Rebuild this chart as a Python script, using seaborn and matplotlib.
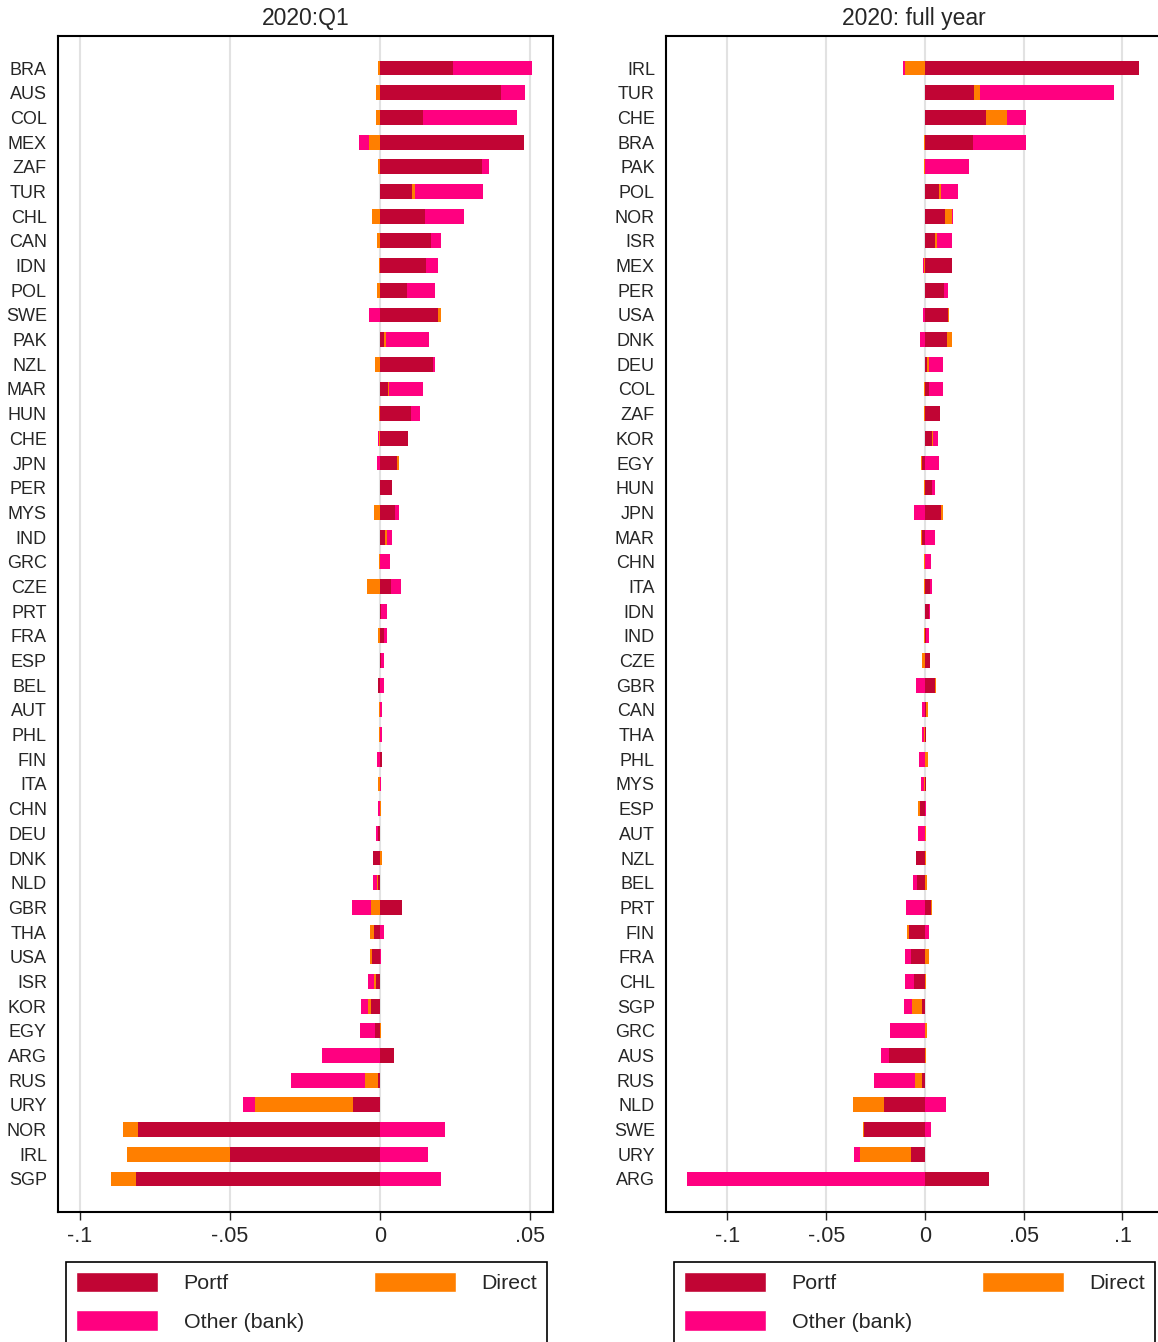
import numpy as np
import matplotlib.pyplot as plt
import seaborn as sns
from matplotlib.patches import Patch, Rectangle

# 2020:Q1 panel
q1_countries = ['BRA', 'AUS', 'COL', 'MEX', 'ZAF', 'TUR', 'CHL', 'CAN', 'IDN', 'POL',
                'SWE', 'PAK', 'NZL', 'MAR', 'HUN', 'CHE', 'JPN', 'PER', 'MYS', 'IND',
                'GRC', 'CZE', 'PRT', 'FRA', 'ESP', 'BEL', 'AUT', 'PHL', 'FIN', 'ITA',
                'CHN', 'DEU', 'DNK', 'NLD', 'GBR', 'THA', 'USA', 'ISR', 'KOR', 'EGY',
                'ARG', 'RUS', 'URY', 'NOR', 'IRL', 'SGP']
q1_portf = [0.0243, 0.0402, 0.0143, 0.0479, 0.0340, 0.0107, 0.0149, 0.0169, 0.0154, 0.0091,
            0.0192, 0.0013, 0.0176, 0.0026, 0.0105, 0.0095, 0.0057, 0.0040, 0.0050, 0.0017,
            0.0000, 0.0036, 0.0003, 0.0012, 0.0003, -0.0005, 0.0000, 0.0000, 0.0007, 0.0000,
            0.0000, -0.0005, -0.0023, -0.0005, 0.0075, -0.0019, -0.0026, -0.0014, -0.0031, -0.0017,
            0.0048, -0.0007, -0.0089, -0.0805, -0.0499, -0.0814]
q1_direct = [-0.0007, -0.0012, -0.0012, -0.0038, -0.0008, 0.0010, -0.0025, -0.0010, -0.0004, -0.0011,
             0.0012, 0.0007, -0.0018, 0.0005, -0.0004, -0.0003, 0.0005, 0.0000, -0.0021, 0.0005,
             -0.0003, -0.0043, 0.0000, -0.0005, 0.0000, 0.0000, -0.0002, -0.0002, 0.0000, -0.0008,
             0.0005, 0.0000, 0.0007, -0.0005, -0.0029, -0.0015, -0.0006, -0.0005, -0.0010, 0.0005,
             0.0000, -0.0043, -0.0328, -0.0052, -0.0344, -0.0082]
q1_other = [0.0265, 0.0082, 0.0313, -0.0031, 0.0023, 0.0225, 0.0132, 0.0036, 0.0038, 0.0091,
            -0.0038, 0.0145, 0.0006, 0.0112, 0.0030, -0.0003, -0.0010, 0.0000, 0.0012, 0.0019,
            0.0033, 0.0033, 0.0022, 0.0010, 0.0009, 0.0014, 0.0007, 0.0006, -0.0009, 0.0004,
            -0.0007, -0.0008, 0.0000, -0.0012, -0.0064, 0.0013, 0.0005, -0.0021, -0.0021, -0.0050,
            -0.0193, -0.0247, -0.0039, 0.0217, 0.0161, 0.0204]

# 2020 full year panel
fy_countries = ['IRL', 'TUR', 'CHE', 'BRA', 'PAK', 'POL', 'NOR', 'ISR', 'MEX', 'PER',
                'USA', 'DNK', 'DEU', 'COL', 'ZAF', 'KOR', 'EGY', 'HUN', 'JPN', 'MAR',
                'CHN', 'ITA', 'IDN', 'IND', 'CZE', 'GBR', 'CAN', 'THA', 'PHL', 'MYS',
                'ESP', 'AUT', 'NZL', 'BEL', 'PRT', 'FIN', 'FRA', 'CHL', 'SGP', 'GRC',
                'AUS', 'RUS', 'NLD', 'SWE', 'URY', 'ARG']
fy_portf = [0.1084, 0.0249, 0.0310, 0.0245, 0.0000, 0.0069, 0.0103, 0.0052, 0.0139, 0.0096,
            0.0117, 0.0110, 0.0011, 0.0023, 0.0074, 0.0034, -0.0013, 0.0034, 0.0083, -0.0016,
            0.0000, 0.0027, 0.0020, 0.0007, 0.0027, 0.0050, 0.0007, 0.0003, 0.0000, 0.0003,
            -0.0025, 0.0000, -0.0047, -0.0041, 0.0031, -0.0079, -0.0070, -0.0055, -0.0016, 0.0000,
            -0.0182, -0.0013, -0.0206, -0.0307, -0.0070, 0.0326]
fy_direct = [-0.0101, 0.0031, 0.0105, -0.0007, -0.0005, 0.0013, 0.0032, 0.0007, -0.0004, 0.0000,
             0.0007, 0.0025, 0.0011, -0.0007, -0.0007, 0.0009, -0.0007, -0.0007, 0.0007, -0.0005,
             -0.0007, -0.0007, 0.0000, -0.0007, -0.0013, 0.0007, 0.0007, -0.0005, 0.0014, -0.0005,
             -0.0010, 0.0005, 0.0005, 0.0009, 0.0005, -0.0011, 0.0018, 0.0004, -0.0049, 0.0009,
             0.0005, -0.0038, -0.0160, -0.0007, -0.0260, 0.0000]
fy_other = [-0.0009, 0.0676, 0.0096, 0.0267, 0.0224, 0.0083, 0.0009, 0.0078, -0.0008, 0.0022,
            -0.0009, -0.0025, 0.0070, 0.0067, 0.0000, 0.0022, 0.0069, 0.0016, -0.0054, 0.0050,
            0.0031, 0.0009, 0.0007, 0.0011, 0.0000, -0.0047, -0.0013, -0.0010, -0.0031, -0.0013,
            0.0004, -0.0036, 0.0000, -0.0020, -0.0094, 0.0022, -0.0032, -0.0045, -0.0041, -0.0179,
            -0.0040, -0.0206, 0.0105, 0.0031, -0.0027, -0.1204]

labels = ['Portf', 'Direct', 'Other (bank)']
colors = ['#c10534', '#ff7f00', '#ff0080']

sns.set_style('white')
plt.rcParams['font.family'] = ['Liberation Sans', 'DejaVu Sans']

W, H = 1158, 1342
fig = plt.figure(figsize=(W / 100, H / 100), dpi=100)


def draw_panel(ax, countries, portf, direct, other, title, xlim, ticks, ticklabels):
    comps = np.array([portf, direct, other])
    pos = np.cumsum(np.clip(comps, 0, None), axis=0)
    neg = np.cumsum(np.clip(comps, None, 0), axis=0)
    # outer layers first, inner ones drawn on top
    for k in [2, 1, 0]:
        for side in (pos, neg):
            sns.barplot(x=side[k], y=countries, order=countries, orient='y',
                        color=colors[k], saturation=1, width=0.6, errorbar=None,
                        linewidth=0, ax=ax)
    n = len(countries)
    ax.set_ylim(n - 1 + 1.34, -1.3)
    ax.set_xlim(*xlim)
    ax.set_xticks(ticks)
    ax.set_xticklabels(ticklabels)
    ax.set_xlabel('')
    ax.set_ylabel('')
    ax.grid(axis='x', color='#e2e2e2', linewidth=1.5)
    ax.grid(axis='y', visible=False)
    ax.set_axisbelow(True)
    for s in ax.spines.values():
        s.set_color('black')
        s.set_linewidth(1.5)
    ax.tick_params(axis='x', length=6, width=1, direction='out', labelsize=15.5, pad=4, bottom=True)
    ax.tick_params(axis='y', length=0, labelsize=13, pad=8)
    ax.set_title(title, fontsize=16.5, pad=8)


ax1 = fig.add_axes([58 / W, 1 - 1212 / H, 495 / W, 1176 / H])
draw_panel(ax1, q1_countries, q1_portf, q1_direct, q1_other, '2020:Q1',
           (-0.1073, 0.0577), [-0.1, -0.05, 0, 0.05], ['-.1', '-.05', '0', '.05'])

ax2 = fig.add_axes([666 / W, 1 - 1212 / H, 495 / W, 1176 / H])
draw_panel(ax2, fy_countries, fy_portf, fy_direct, fy_other, '2020: full year',
           (-0.1311, 0.1195), [-0.1, -0.05, 0, 0.05, 0.1], ['-.1', '-.05', '0', '.05', '.1'])

handles = [Patch(facecolor=colors[0], label=labels[0]),
           Patch(facecolor=colors[2], label=labels[2]),
           Patch(facecolor=colors[1], label=labels[1])]
for x0 in (66, 674):
    # legend box runs past the bottom edge of the figure
    fig.patches.append(Rectangle((x0 / W, -0.02), 481 / W, 1 - 1262 / H + 0.02,
                                 transform=fig.transFigure, facecolor='white',
                                 edgecolor='black', linewidth=1.2, zorder=0))
    fig.legend(handles=handles, loc='upper left', ncol=2, mode='expand',
               bbox_to_anchor=(x0 / W, 1 - 1262 / H - 0.1, 481 / W, 0.1),
               borderaxespad=0, fontsize=15.4, handlelength=3.85, handleheight=1.1,
               handletextpad=1.2, labelspacing=0.8, borderpad=0.45, frameon=False)

fig.savefig('out.png', dpi=100)
